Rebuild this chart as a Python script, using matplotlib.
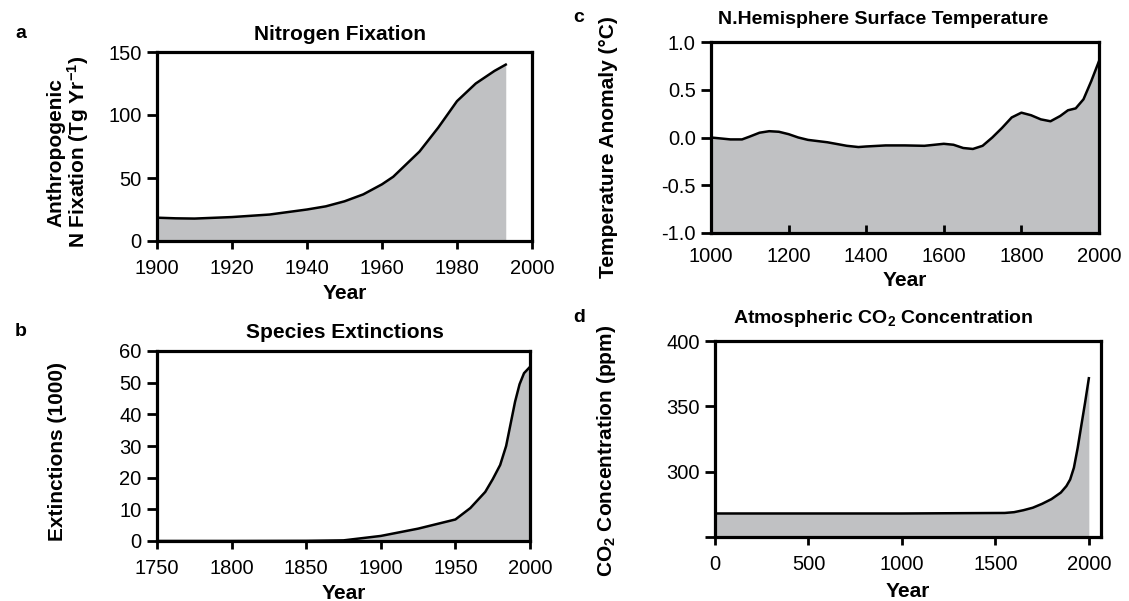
import matplotlib
matplotlib.use("Agg")
import matplotlib.pyplot as plt

plt.rcParams['font.family'] = ['Liberation Sans', 'DejaVu Sans']
plt.rcParams['mathtext.fontset'] = 'custom'
plt.rcParams['mathtext.rm'] = 'Liberation Sans:bold'
plt.rcParams['mathtext.default'] = 'rm'

FILL = '#c0c1c3'

# a: anthropogenic N fixation (Tg/yr)
n_years = [1900, 1905, 1910, 1920, 1930, 1940, 1945, 1950, 1955, 1960, 1963,
           1970, 1975, 1980, 1985, 1990, 1993]
n_vals = [18.5, 18.0, 17.8, 19, 21, 25, 27.5, 31.5, 37, 45, 51,
          71, 90, 111, 125, 135, 140]

# b: species extinctions (thousands)
ext_years = [1750, 1800, 1850, 1875, 1900, 1925, 1950, 1960, 1970, 1975, 1980,
             1984, 1987, 1990, 1993, 1996, 2000]
ext_vals = [0, 0, 0.05, 0.2, 1.6, 3.9, 6.8, 10.4, 15.5, 19.5, 24,
            30, 37, 44, 49.5, 53, 55]

# c: N. hemisphere temperature anomaly (C)
t_years = [1000, 1025, 1050, 1080, 1100, 1125, 1150, 1175, 1200, 1225, 1250, 1300,
           1350, 1380, 1400, 1450, 1500, 1550, 1600, 1625, 1650, 1675, 1700, 1725,
           1750, 1775, 1800, 1825, 1850, 1875, 1900, 1920, 1940, 1960, 1980, 2000]
t_vals = [0.0, -0.01, -0.02, -0.02, 0.01, 0.05, 0.066, 0.06, 0.035, 0.0, -0.025, -0.05,
          -0.087, -0.10, -0.094, -0.083, -0.083, -0.087, -0.066, -0.076, -0.11, -0.12, -0.087, 0.0,
          0.10, 0.21, 0.26, 0.233, 0.19, 0.17, 0.225, 0.285, 0.305, 0.40, 0.59, 0.80]

# d: atmospheric CO2 (ppm)
co2_years = [0, 500, 1000, 1550, 1600, 1650, 1700, 1750, 1800, 1850, 1880, 1900,
             1920, 1940, 1960, 1980, 2000]
co2_vals = [268, 268, 268, 268.4, 269, 270.5, 272.4, 275.4, 279, 284, 289, 294,
            303, 318, 335.6, 353, 371.5]

fig = plt.figure(figsize=(11.29, 6.01), dpi=100)
W, H = 1129, 601
TICK_FS = 14.5
LAB_FS = 15


def make_ax(x0, y0, x1, y1):
    return fig.add_axes([x0 / W, 1 - y1 / H, (x1 - x0) / W, (y1 - y0) / H])


def style(ax, xin=False):
    for s in ax.spines.values():
        s.set_linewidth(2.3)
    ax.tick_params(axis='y', direction='out', length=7, width=2, labelsize=TICK_FS, pad=4)
    ax.tick_params(axis='x', direction='in' if xin else 'out', length=6, width=2,
                   labelsize=TICK_FS, pad=10 if xin else 7)


def area(ax, x, y, base):
    ax.fill_between(x, base, y, color=FILL, lw=0)
    ax.plot(x, y, color='black', lw=1.8)


# panel a
ax = make_ax(157, 52, 532, 241)
area(ax, n_years, n_vals, 0)
ax.set_xlim(1900, 2000)
ax.set_ylim(0, 150)
ax.set_xticks([1900, 1920, 1940, 1960, 1980, 2000])
ax.set_yticks([0, 50, 100, 150])
style(ax)
ax.set_title('Nitrogen Fixation', fontsize=LAB_FS, fontweight='bold', x=0.488, pad=9)
ax.set_xlabel('Year', fontsize=LAB_FS, fontweight='bold', labelpad=4)
ax.set_ylabel('Anthropogenic\nN Fixation (Tg Yr$^{-1}$)', fontsize=LAB_FS, fontweight='bold',
              linespacing=1.0)
ax.yaxis.set_label_coords(-0.175, 0.47)

# panel b
ax = make_ax(157, 351, 530, 541)
area(ax, ext_years, ext_vals, 0)
ax.set_xlim(1750, 2000)
ax.set_ylim(0, 60)
ax.set_xticks([1750, 1800, 1850, 1900, 1950, 2000])
ax.set_yticks([0, 10, 20, 30, 40, 50, 60])
style(ax)
ax.set_title('Species Extinctions', fontsize=LAB_FS, fontweight='bold', x=0.504, pad=9)
ax.set_xlabel('Year', fontsize=LAB_FS, fontweight='bold', labelpad=4)
ax.set_ylabel('Extinctions (1000)', fontsize=LAB_FS, fontweight='bold')
ax.yaxis.set_label_coords(-0.24, 0.47)

# panel c
ax = make_ax(711, 42, 1099, 233)
area(ax, t_years, t_vals, -1.0)
ax.set_xlim(1000, 2000)
ax.set_ylim(-1.0, 1.0)
ax.set_xticks([1000, 1200, 1400, 1600, 1800, 2000])
ax.set_yticks([-1.0, -0.5, 0.0, 0.5, 1.0])
ax.set_yticklabels(['-1.0', '-0.5', '0.0', '0.5', '1.0'])
style(ax, xin=True)
ax.set_title('N.Hemisphere Surface Temperature', fontsize=14, fontweight='bold',
             x=0.443, pad=13)
ax.set_xlabel('Year', fontsize=LAB_FS, fontweight='bold', labelpad=4)
ax.set_ylabel('Temperature Anomaly (°C)', fontsize=LAB_FS, fontweight='bold')
ax.yaxis.set_label_coords(-0.24, 0.45)

# panel d
ax = make_ax(715, 341, 1101, 537)
area(ax, co2_years, co2_vals, 250)
ax.set_xlim(0, 2065)
ax.set_ylim(250, 400)
ax.set_xticks([0, 500, 1000, 1500, 2000])
ax.set_yticks([250, 300, 350, 400])
ax.set_yticklabels(['', '300', '350', '400'])
style(ax)
ax.set_title('Atmospheric CO$_2$ Concentration', fontsize=14, fontweight='bold',
             x=0.435, pad=13)
ax.set_xlabel('Year', fontsize=LAB_FS, fontweight='bold', labelpad=6)
ax.set_ylabel('CO$_2$ Concentration (ppm)', fontsize=LAB_FS, fontweight='bold')
ax.yaxis.set_label_coords(-0.25, 0.44)

for letter, (px, py) in {'a': (15, 33), 'b': (15, 332), 'c': (573, 18), 'd': (573, 318)}.items():
    fig.text(px / W, 1 - py / H, letter, fontsize=14, fontweight='bold', va='center')

fig.savefig('out.png', dpi=100)
